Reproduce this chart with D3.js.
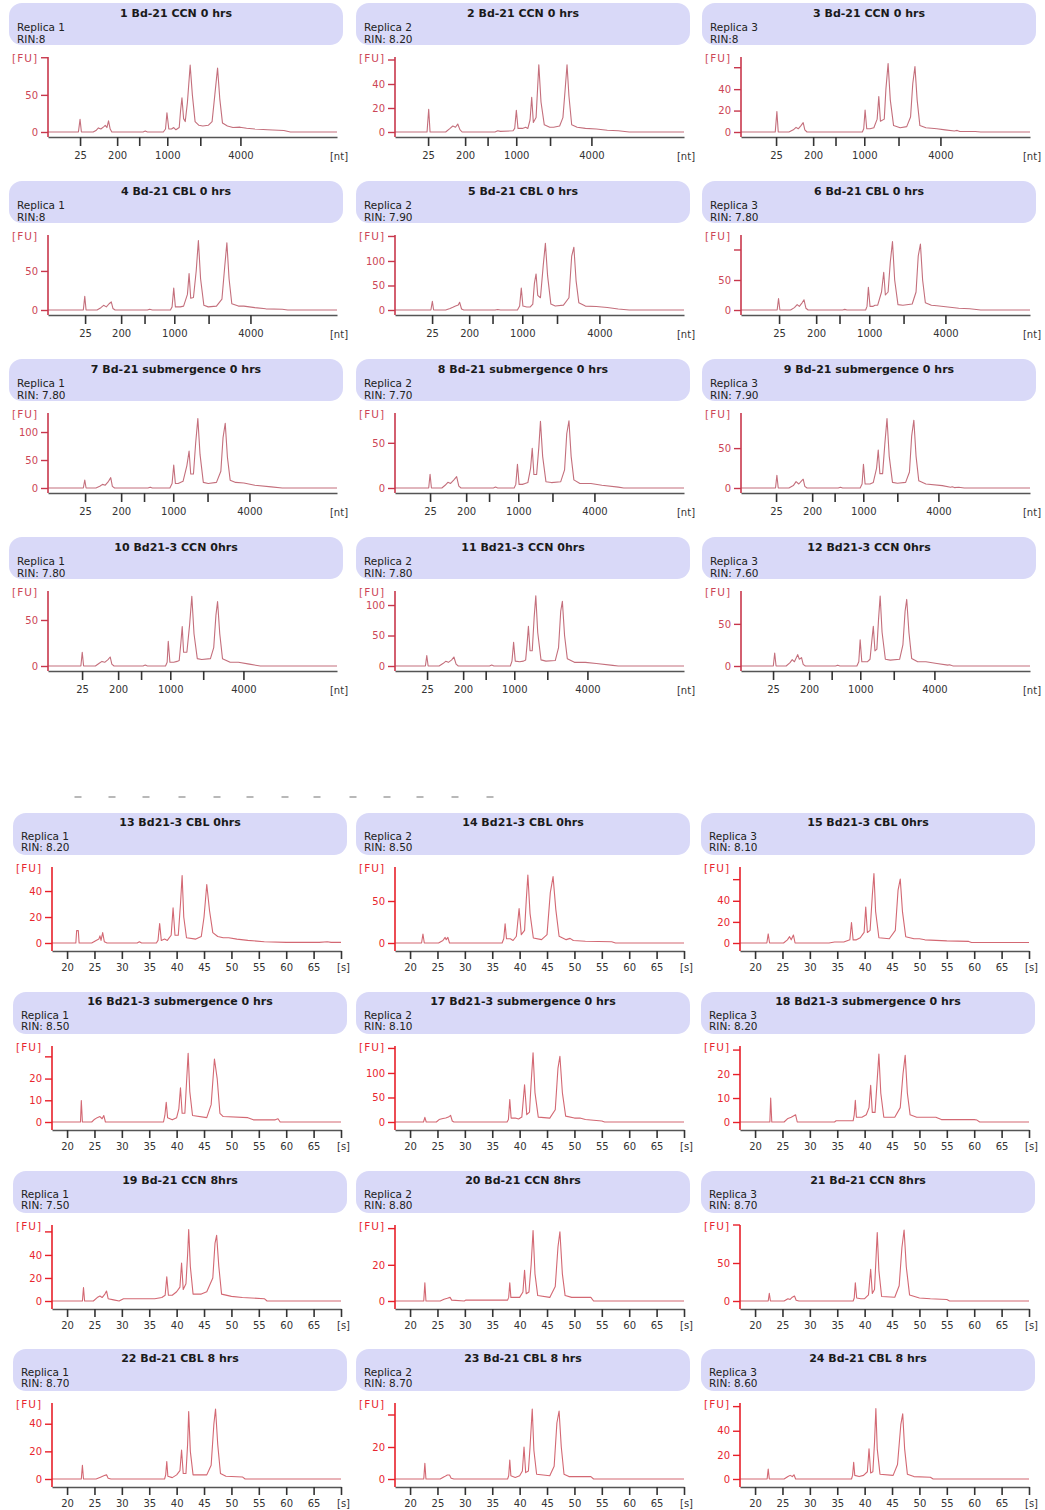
<!DOCTYPE html>
<html><head><meta charset="utf-8">
<script src="https://cdn.jsdelivr.net/npm/d3@7"></script>
<style>
html,body{margin:0;padding:0;background:#fff;}
svg text{font-family:"DejaVu Sans",Verdana,sans-serif;}
</style></head>
<body>
<script>
// ---------- DATA ----------
const panelTitles = [
 "1 Bd-21 CCN 0 hrs","2 Bd-21 CCN 0 hrs","3 Bd-21 CCN 0 hrs",
 "4 Bd-21 CBL 0 hrs","5 Bd-21 CBL 0 hrs","6 Bd-21 CBL 0 hrs",
 "7 Bd-21 submergence 0 hrs","8 Bd-21 submergence 0 hrs","9 Bd-21 submergence 0 hrs",
 "10 Bd21-3 CCN 0hrs","11 Bd21-3 CCN 0hrs","12 Bd21-3 CCN 0hrs",
 "13 Bd21-3 CBL 0hrs","14 Bd21-3 CBL 0hrs","15 Bd21-3 CBL 0hrs",
 "16 Bd21-3 submergence 0 hrs","17 Bd21-3 submergence 0 hrs","18 Bd21-3 submergence 0 hrs",
 "19 Bd-21 CCN 8hrs","20 Bd-21 CCN 8hrs","21 Bd-21 CCN 8hrs",
 "22 Bd-21 CBL 8 hrs","23 Bd-21 CBL 8 hrs","24 Bd-21 CBL 8 hrs"];
const replicaLabels = ["Replica 1","Replica 2","Replica 3"];
const rinLabels = [
 "RIN:8","RIN: 8.20","RIN:8",
 "RIN:8","RIN: 7.90","RIN: 7.80",
 "RIN: 7.80","RIN: 7.70","RIN: 7.90",
 "RIN: 7.80","RIN: 7.80","RIN: 7.60",
 "RIN: 8.20","RIN: 8.50","RIN: 8.10",
 "RIN: 8.50","RIN: 8.10","RIN: 8.20",
 "RIN: 7.50","RIN: 8.80","RIN: 8.70",
 "RIN: 8.70","RIN: 8.70","RIN: 8.60"];
// FU value at top of each y axis
const yMaxValues = [101,62.5,70, 96,153,125, 134,83,94, 81.5,123,89,
                    58.5,90.5,72, 35,155,31.7, 66,42,100, 55,47.5,63];
const yTickValues = [
 [0,50],[0,20,40],[0,20,40],
 [0,50],[0,50,100],[0,50],
 [0,50,100],[0,50],[0,50],
 [0,50],[0,50,100],[0,50],
 [0,20,40],[0,50],[0,20,40],
 [0,10,20],[0,50,100],[0,10,20],
 [0,20,40],[0,20],[0,50],
 [0,20,40],[0,20],[0,20,40]];
const yUnlabeledTicks = [
 [100],[60],[60], [],[150],[100], [],[],[], [],[],[],
 [],[],[60], [30],[150],[30], [60],[40],[100], [],[40],[60]];
// nucleotide ladder positions (in migration seconds) for panels 1-12
const ntTickLabels = ["25","200","","1000","","4000"];
const ntTickSeconds = [
 [23.10,29.87,33.90,39.02,45.05,52.37],
 [23.29,30.05,34.15,39.38,45.55,53.10],
 [23.65,30.42,34.50,39.75,46.00,53.65],
 [24.02,30.60,34.87,40.30,46.56,54.20],
 [24.02,30.79,35.05,40.48,46.82,54.56],
 [24.20,30.97,35.23,40.66,46.92,54.56],
 [24.02,30.60,34.78,40.11,46.37,54.02],
 [23.65,30.24,34.42,39.75,45.99,53.65],
 [23.65,30.24,34.34,39.57,45.78,53.28],
 [23.47,30.05,34.24,39.57,45.58,52.92],
 [23.10,29.69,33.80,39.02,45.05,52.37],
 [23.10,29.69,33.80,39.02,45.13,52.55]];
const secTickValues = [20,25,30,35,40,45,50,55,60,65,70];
const secTickLabels = ["20","25","30","35","40","45","50","55","60","65","[s]"];
const timeDomain = [17.25,70];

const traces = [
 [[17.25,0],[22.8,0],[23.1,17],[23.35,0],[25.5,0],[26.0,2],[26.45,5.5],[26.9,4],[27.4,7],[27.7,9],[28.0,6],[28.3,15],[28.6,4],[28.9,0],[34.6,0],[35.0,1.2],[35.4,0],[38.3,0],[38.7,4],[38.96,26],[39.3,4],[39.8,4],[40.2,6],[40.6,3],[41.2,6],[41.45,29],[41.7,46],[42.0,18],[42.3,14],[42.7,40],[43.2,90],[43.6,50],[44.1,14],[44.8,9],[45.5,8],[46.5,9],[47.2,14],[47.7,50],[48.2,86],[48.6,45],[49.1,12],[50,8],[51,6],[52.3,6.5],[53.5,5],[55,4],[57.3,3],[60.3,2],[61.5,0],[70,0]],
 [[17.25,0],[23.1,0],[23.4,19],[23.65,0],[26.5,0],[27.3,3],[27.8,5],[28.3,4],[28.7,6.7],[29.1,2],[29.5,0],[35.5,0],[36,1],[36.5,0.5],[38.8,1],[39.1,3],[39.4,18],[39.7,3],[40.5,3],[41.1,4],[41.5,3],[41.9,10],[42.2,29],[42.5,8],[43.0,12],[43.5,56],[43.9,25],[44.5,6],[45.5,4],[46.2,4],[47.3,5],[47.9,12],[48.3,35],[48.65,56],[49.0,30],[49.5,6],[50.5,4],[52,3],[54,2.5],[56,1.5],[58,1],[60,0],[70,0]],
 [[17.25,0],[23.5,0],[23.8,19],[24.05,0],[26.0,0],[26.8,2],[27.3,4.3],[27.7,3],[28.2,6],[28.6,8.7],[28.9,2],[29.3,0],[39.4,0],[39.65,3],[39.9,20.5],[40.2,3],[40.8,3],[41.5,4],[42.1,12],[42.4,33],[42.7,10],[43.4,12],[43.7,40],[44.1,64],[44.5,30],[45.1,6],[46.3,4],[47.5,5],[48.2,14],[48.6,45],[49.0,61],[49.4,30],[49.9,6],[51,4],[53,3],[54.5,2],[56.2,1],[56.7,1.5],[57.2,0.5],[60,0.5],[61,0],[70,0]],
 [[17.25,0],[23.7,0],[23.96,17.5],[24.2,0],[26.2,0],[26.9,3],[27.4,6],[27.9,4],[28.4,8],[28.8,10.3],[29.1,2],[29.5,0],[35.4,0],[35.8,1],[36.3,0],[39.6,0],[39.9,4],[40.2,28],[40.5,4],[41.0,4],[41.4,4],[42.0,5],[42.7,20],[43.0,46.6],[43.3,15],[43.8,16],[44.3,50],[44.7,89],[45.1,40],[45.7,6],[46.5,4],[48,5],[49.0,14],[49.5,55],[49.9,86],[50.3,40],[50.8,8],[52,5],[53,5],[55,3],[57,1.5],[60,1],[61,0],[70,0]],
 [[17.25,0],[23.8,0],[24.07,17.7],[24.3,0],[26.5,0],[27.3,3],[27.8,5.4],[28.3,8],[28.8,10],[29.05,15.6],[29.4,2],[29.8,0],[35.5,0],[36,1],[36.5,0],[39.6,0],[40.0,8],[40.3,45],[40.6,8],[41.3,6],[41.9,6],[42.4,12],[42.7,55],[43.0,73.5],[43.3,30],[43.8,25],[44.3,90],[44.7,136],[45.1,70],[45.7,12],[46.5,8],[48,10],[49.0,25],[49.5,110],[49.9,128],[50.3,60],[50.8,15],[52,8],[54,7],[56,5],[58,2],[60,0],[70,0]],
 [[17.25,0],[23.85,0],[24.1,18.9],[24.35,0],[26.3,0],[27.0,4],[27.5,9],[27.9,6],[28.4,12],[28.75,17],[29.1,3],[29.5,0],[35.8,0],[36.2,1],[36.6,0],[40.0,0],[40.25,6],[40.5,37.8],[40.8,6],[41.3,6],[41.7,8],[42.2,8],[42.9,30],[43.3,63],[43.6,25],[44.1,30],[44.5,80],[44.9,114],[45.3,50],[45.9,9],[46.8,8],[48.5,10],[49.2,30],[49.6,90],[50.0,110],[50.4,50],[50.9,12],[52,8],[53,7],[55,5],[57,3],[59,2],[61,0],[70,0]],
 [[17.25,0],[23.7,0],[23.96,14.3],[24.2,0],[26.0,0],[26.7,3],[27.2,6.5],[27.7,5],[28.3,12],[28.7,18.5],[29.0,3],[29.4,0],[35.5,0],[35.9,1.5],[36.3,0],[39.5,0],[39.9,8],[40.2,41],[40.5,8],[41.0,8],[41.4,10],[41.9,12],[42.6,40],[43.0,66],[43.3,25],[43.8,25],[44.2,80],[44.6,124],[45.0,60],[45.6,10],[46.5,8],[48,10],[48.8,30],[49.2,90],[49.6,115.5],[50.0,55],[50.5,14],[51.5,10],[53,9],[55,5],[58,2],[60,0],[70,0]],
 [[17.25,0],[23.4,0],[23.65,15.2],[23.9,0],[25.8,0],[26.4,3],[26.9,6.3],[27.4,5],[28.0,9],[28.5,12.6],[28.9,2],[29.3,0],[35.2,0],[35.6,1],[36.0,0],[39.0,0],[39.3,4],[39.6,26.3],[39.9,4],[40.5,4],[41.0,5],[41.5,6],[42.0,22],[42.3,44],[42.6,15],[43.1,15],[43.5,45],[43.8,73.7],[44.2,35],[44.8,7],[45.8,6],[47.5,7],[48.2,20],[48.6,60],[49.0,74.4],[49.4,35],[49.9,9],[51,5],[53,5],[55,3],[58,1],[59,0],[70,0]],
 [[17.25,0],[23.55,0],[23.8,16],[24.05,0],[26.0,0],[26.8,3],[27.3,8],[27.8,5],[28.3,9],[28.6,11],[28.9,2],[29.3,0],[35.0,0],[35.4,1],[35.8,0],[39.0,0],[39.35,5],[39.6,29.6],[39.9,5],[40.5,5],[40.8,5],[41.4,7],[42.0,25],[42.3,47.5],[42.6,18],[43.1,18],[43.5,55],[43.9,87],[44.3,40],[44.9,7],[45.8,6],[47.3,7],[48.0,20],[48.4,65],[48.8,85],[49.2,40],[49.7,9],[51,5],[54,3],[55.5,1],[55.8,1.5],[56.2,0.5],[57,1],[58,0],[70,0]],
 [[17.25,0],[23.25,0],[23.5,14.9],[23.75,0],[25.9,0],[26.6,3],[27.1,5],[27.6,4],[28.2,7],[28.6,9.8],[28.9,2],[29.3,0],[34.6,0],[35.0,1],[35.4,0],[38.7,0],[39.0,4],[39.2,26.8],[39.5,4],[40.2,4],[40.8,5],[41.2,6],[41.5,25],[41.75,43],[42.0,15],[42.6,15],[43.1,45],[43.5,75.7],[43.9,35],[44.5,8],[45.3,7],[46.9,8],[47.5,20],[47.9,55],[48.2,70],[48.6,35],[49.1,8],[50.5,4],[52,4],[54,2],[56,0],[70,0]],
 [[17.25,0],[22.8,0],[23.05,17],[23.3,0],[25.3,0],[26.0,4],[26.5,7.7],[27.0,6],[27.6,10],[28.0,14.8],[28.4,3],[28.8,0],[34.5,0],[34.9,1.5],[35.3,0],[38.3,0],[38.6,8],[38.9,38.8],[39.2,8],[40.0,7],[40.7,8],[41.1,10],[41.35,35],[41.6,65],[41.9,25],[42.3,25],[42.65,80],[42.95,115],[43.3,55],[43.9,10],[44.8,8],[46.5,9],[47.1,30],[47.5,90],[47.8,106],[48.2,50],[48.7,12],[50,6],[52,6],[54,4],[57,1],[58,0],[70,0]],
 [[17.25,0],[23.15,0],[23.4,15.5],[23.65,0],[25.5,0],[26.2,4],[26.6,7.5],[27.0,5],[27.6,13.5],[27.9,8],[28.3,10],[28.6,2],[29.0,0],[34.5,0],[34.9,1],[35.3,0],[38.4,0],[38.75,5],[39.0,31],[39.3,5],[39.9,5],[40.3,5],[40.8,8],[41.1,28],[41.4,47],[41.7,18],[42.05,20],[42.35,55],[42.65,83],[43.0,40],[43.6,8],[44.5,7],[46.2,8],[46.8,25],[47.2,65],[47.5,79],[47.9,40],[48.4,9],[49.5,5],[51,5],[53,3],[55,1],[55.3,1.5],[55.7,0.5],[56,0],[70,0]],
 [[17.25,0],[21.6,0],[21.75,9.5],[22.05,9.5],[22.2,0],[24.5,0],[25.3,2],[25.8,3],[26.0,5.5],[26.2,2],[26.5,8],[26.8,1],[27.3,0],[32.8,0],[33.2,1],[33.6,0],[36.3,0],[36.6,2],[36.9,15],[37.2,2],[37.8,3],[38.3,2],[39.0,6],[39.35,27],[39.7,6],[40.3,6],[40.7,30],[41.0,52],[41.3,20],[41.8,4],[43.5,3],[44.5,5],[45.0,20],[45.5,45],[46.0,25],[46.6,8],[47.5,5],[48.5,4],[49.5,4],[51,3],[53,2],[56,1],[60,0.5],[66,0.5],[67.5,1],[68.2,0.5],[70,0.5]],
 [[17.25,0],[22.1,0],[22.35,10.7],[22.6,0],[25.2,0],[26.0,3],[26.4,6.7],[26.6,4],[26.9,6.7],[27.2,0],[36.8,0],[37.1,5],[37.35,23],[37.6,5],[38.3,5],[38.8,3],[39.4,8],[39.9,41],[40.3,10],[40.9,15],[41.2,50],[41.5,81],[41.9,35],[42.5,6],[44,4],[45.0,10],[45.6,60],[46.1,79],[46.6,40],[47.2,8],[48.5,4],[49.2,5.5],[49.8,3],[52,2],[56.8,1.5],[57.5,0],[70,0]],
 [[17.25,0],[22.15,0],[22.4,8.6],[22.65,0],[25.2,0],[25.9,3],[26.3,6],[26.6,3],[27.0,7.6],[27.3,0],[33.5,0],[34.5,1],[36.2,1],[37.3,3],[37.6,19.4],[37.9,3],[38.5,3],[39.2,5],[39.9,10],[40.2,34],[40.5,10],[41.0,12],[41.4,45],[41.7,65.7],[42.0,30],[42.6,5],[44.5,4],[45.6,12],[46.1,50],[46.5,60.6],[46.9,30],[47.5,6],[49,4],[50,4],[51,3],[55,2],[59,1.5],[59.5,0.5],[70,0.5]],
 [[17.25,0],[22.45,0],[22.6,9.9],[22.8,0],[24.5,0],[24.9,1],[25.5,2],[26.0,2.5],[26.4,1.5],[26.7,3],[27.0,0],[37.6,0],[37.85,3],[38.1,9.1],[38.35,2],[39.2,1],[40.0,2],[40.4,6],[40.7,15.8],[41.0,4],[41.5,4],[41.8,18],[42.1,31.6],[42.4,14],[42.9,3],[45.5,2],[46.3,8],[46.9,29],[47.4,20],[47.9,4],[48.5,2.5],[53,2],[54,1],[58,1],[58.5,1.5],[58.9,0],[70,0]],
 [[17.25,0],[22.45,0],[22.7,9.5],[22.95,0],[24.8,0],[25.3,5],[26.0,7],[26.5,8],[27.0,10],[27.4,13.6],[27.7,2],[28.0,0],[37.7,0],[37.95,5],[38.2,45.6],[38.45,8],[39.2,8],[39.8,6],[40.4,10],[40.9,76],[41.3,15],[41.8,20],[42.1,80],[42.45,141],[42.8,60],[43.4,10],[45.5,8],[46.5,25],[47.0,110],[47.35,134],[47.8,60],[48.4,12],[50,8],[51,8],[52,5],[55,2],[55.5,0],[70,0]],
 [[17.25,0],[22.7,0],[22.85,10],[23.05,0],[25.3,0],[26.0,1.5],[26.6,2],[27.0,2.5],[27.4,3],[27.7,0],[34.5,0],[34.8,0.5],[37.9,0.5],[38.1,3],[38.3,9],[38.5,2],[39.5,2],[40.3,3],[40.8,6],[41.1,15.3],[41.4,4],[41.9,4],[42.25,16],[42.6,28.3],[42.95,12],[43.5,2],[45.5,2],[46.5,6],[47.0,20],[47.4,27.8],[47.8,12],[48.3,3],[49.5,2],[53,2],[54,1],[60,1],[60.5,0.8],[61,0],[70,0]],
 [[17.25,0],[22.8,0],[23.0,11.6],[23.2,0],[24.8,0],[25.5,3],[26.0,4.3],[26.4,3],[26.9,6],[27.2,8.7],[27.5,2],[28.5,1],[29.5,0],[30.3,2],[36,2],[37.3,3],[37.9,5],[38.2,21],[38.5,5],[39.2,5],[40.0,8],[40.6,12],[40.9,33],[41.2,10],[41.7,15],[42.0,40],[42.2,62],[42.5,30],[43.0,6],[44.5,6],[45.5,8],[46.6,20],[47.0,50],[47.3,57],[47.7,30],[48.2,6],[50,4],[52,3],[56,2],[56.5,0],[70,0]],
 [[17.25,0],[22.5,0],[22.7,10],[22.9,0],[25.5,0],[26.2,1],[26.8,1.5],[27.3,2],[27.6,0.5],[29.9,0],[30.2,0.5],[37.8,0.5],[38.0,2],[38.2,10],[38.4,2],[39.2,2],[40.0,2],[40.6,5],[40.9,17],[41.2,4],[41.7,5],[42.1,20],[42.45,39],[42.8,15],[43.3,3],[45.5,2],[46.5,8],[47.0,30],[47.35,38.3],[47.8,15],[48.3,3],[49.5,2],[53,2],[53.5,0],[70,0]],
 [[17.25,0],[22.4,0],[22.6,10],[22.8,0],[25.3,0],[26.0,3],[26.4,2],[26.8,5],[27.2,6.6],[27.5,1],[28,0],[37.9,0],[38.1,4],[38.3,24],[38.55,4],[39.3,3],[40.0,3],[40.7,8],[41.1,41.7],[41.4,10],[41.8,15],[42.1,60],[42.3,90],[42.6,40],[43.1,6],[45.5,5],[46.3,20],[46.8,70],[47.2,93.4],[47.6,45],[48.2,8],[50,4],[52,3],[55,2],[55.5,0],[70,0]],
 [[17.25,0],[22.6,0],[22.8,10],[23.0,0],[25.3,0],[26.2,1.5],[26.8,2.5],[27.2,3],[27.5,0.5],[28,0],[37.8,0],[38.0,3],[38.2,12.6],[38.4,2],[39.2,1],[40.0,3],[40.6,6],[40.9,21],[41.2,4],[41.7,4],[42.0,25],[42.2,48.8],[42.5,20],[43.0,3],[45.5,3],[46.3,10],[46.8,40],[47.1,50.7],[47.5,25],[48.0,4],[49,2],[52,1.5],[52.5,0],[70,0]],
 [[17.25,0],[22.5,0],[22.7,9.8],[22.9,0],[25.5,0],[26.3,1.5],[26.8,2.5],[27.2,2.5],[27.5,0.5],[28,0],[37.8,0],[38.0,2],[38.2,11.9],[38.4,2],[39.2,1],[40.0,2],[40.5,5],[40.8,20],[41.1,4],[41.6,5],[41.9,20],[42.3,43.7],[42.6,18],[43.1,3],[45.5,2],[46.3,8],[46.8,35],[47.2,42.5],[47.6,20],[48.1,3],[49,1.5],[53,1.5],[53.5,0],[70,0]],
 [[17.25,0],[22.2,0],[22.4,8.3],[22.6,0],[25.3,0],[26.0,2],[26.4,3],[26.8,2],[27.1,3.5],[27.4,0],[37.6,0],[37.8,3],[38.0,13.9],[38.2,3],[39.0,2],[39.8,3],[40.5,6],[40.8,25],[41.1,5],[41.5,6],[41.8,30],[42.05,58.3],[42.3,25],[42.8,4],[45.2,3],[46.0,12],[46.6,45],[46.95,54],[47.3,25],[47.8,4],[49,2],[52,1.5],[52.5,0],[70,0]]
];

// faint remnants of a cropped axis between the two blocks
const stubX = [78,112,146,182,217,250,285,317,353,387,420,455,490];

// ---------- LAYOUT ----------
const W = 1045, H = 1510;
const topRowY = [2,180,358,536];
const bottomRowY = [812,991,1170,1348];
const axisXTop = [48,395,741];
const axisXBottom = [52,395,740];
const plotW = 289;

const svg = d3.select("body").append("svg").attr("width",W).attr("height",H)
  .style("display","block");
svg.append("rect").attr("width",W).attr("height",H).attr("fill","#fff");

svg.append("g").selectAll("rect").data(stubX).join("rect")
  .attr("x",d=>d-3.5).attr("y",796).attr("width",7).attr("height",2)
  .attr("fill","#9a9a9a").attr("opacity",0.7);

panelTitles.forEach((title,i)=>{
  const bottom = i >= 12;
  const k = i % 12, row = Math.floor(k/3), col = k % 3;
  const R = bottom ? bottomRowY[row] : topRowY[row];
  const ax = bottom ? axisXBottom[col] : axisXTop[col];
  const zeroY = R + (bottom ? 131 : 130);
  const topY = R + 55;
  const axisY = R + (bottom ? 139 : 135);
  const yCol = bottom ? "#e8202a" : "#c8374c";
  const yTxt = bottom ? "#e8262e" : "#cc4656";
  const traceCol = bottom ? "#d36873" : "#c46f7c";
  const g = svg.append("g");

  // header box
  const bx = ax - 39;
  g.append("rect").attr("x",bx).attr("y",R+1).attr("width",334).attr("height",42)
    .attr("rx",13).attr("ry",13).attr("fill","#d9d9f8");
  g.append("text").attr("x",bx+167).attr("y",R+(bottom?11:12)).attr("text-anchor","middle")
    .attr("dominant-baseline","middle").attr("font-weight","bold").attr("font-size",11)
    .attr("fill","#1a1a1a").text(title);
  g.append("text").attr("x",bx+8).attr("y",R+(bottom?25:26)).attr("dominant-baseline","middle")
    .attr("font-size",10.5).attr("fill","#222").text(replicaLabels[col]);
  g.append("text").attr("x",bx+8).attr("y",R+(bottom?36:38)).attr("dominant-baseline","middle")
    .attr("font-size",10.5).attr("fill","#222").text(rinLabels[i]);

  const x = d3.scaleLinear().domain(timeDomain).range([ax, ax+plotW]);
  const y = d3.scaleLinear().domain([0,yMaxValues[i]]).range([zeroY, topY]);

  // trace
  g.append("path").datum(traces[i])
    .attr("d", d3.line().x(d=>x(d[0])).y(d=>y(d[1])))
    .attr("fill","none").attr("stroke",traceCol).attr("stroke-width",1.1)
    .attr("stroke-linejoin","round");

  // x axis
  let xAxis;
  if (!bottom) {
    xAxis = d3.axisBottom(x).tickValues(ntTickSeconds[k])
      .tickFormat((d,j)=>ntTickLabels[j]).tickSize(9).tickPadding(6).tickSizeOuter(0);
  } else {
    xAxis = d3.axisBottom(x).tickValues(secTickValues)
      .tickFormat((d,j)=>secTickLabels[j]).tickSize(8).tickPadding(5).tickSizeOuter(0);
  }
  const xg = g.append("g").attr("transform",`translate(0,${axisY})`).call(xAxis);
  xg.select(".domain").attr("stroke","#555").attr("stroke-width",1.6);
  xg.selectAll(".tick line").attr("stroke","#333").attr("stroke-width",1.6);
  xg.selectAll(".tick text").attr("font-size",10).attr("fill","#333")
    .attr("font-family","DejaVu Sans, Verdana, sans-serif");
  if (bottom) {
    xg.selectAll(".tick text").filter((d,j)=>j===secTickValues.length-1).attr("dx",2);
  } else {
    g.append("text").attr("x",ax+291).attr("y",R+155).attr("text-anchor","middle")
      .attr("dominant-baseline","middle").attr("font-size",10).attr("fill","#333").text("[nt]");
  }

  // y axis
  const yAxis = d3.axisLeft(y).tickValues(yTickValues[i]).tickSize(7).tickPadding(3)
    .tickFormat(d3.format("d"));
  const yg = g.append("g").attr("transform",`translate(${ax},0)`).call(yAxis);
  yg.select(".domain").remove();
  yg.selectAll(".tick line").attr("stroke",yCol).attr("stroke-width",1.4);
  yg.selectAll(".tick text").attr("font-size",10).attr("fill",yTxt)
    .attr("font-family","DejaVu Sans, Verdana, sans-serif");
  g.append("g").selectAll("line").data(yUnlabeledTicks[i]).join("line")
    .attr("x1",ax-7).attr("x2",ax).attr("y1",d=>y(d)).attr("y2",d=>y(d))
    .attr("stroke",yCol).attr("stroke-width",1.4);
  g.append("line").attr("x1",ax).attr("x2",ax).attr("y1",topY).attr("y2",axisY)
    .attr("stroke",yCol).attr("stroke-width",1.6);
  g.append("text").attr("x",ax-10).attr("y",R+57).attr("text-anchor","end")
    .attr("dominant-baseline","middle").attr("font-size",10.5).attr("letter-spacing",1)
    .attr("fill",yTxt).text("[FU]");
});
</script>
</body></html>
